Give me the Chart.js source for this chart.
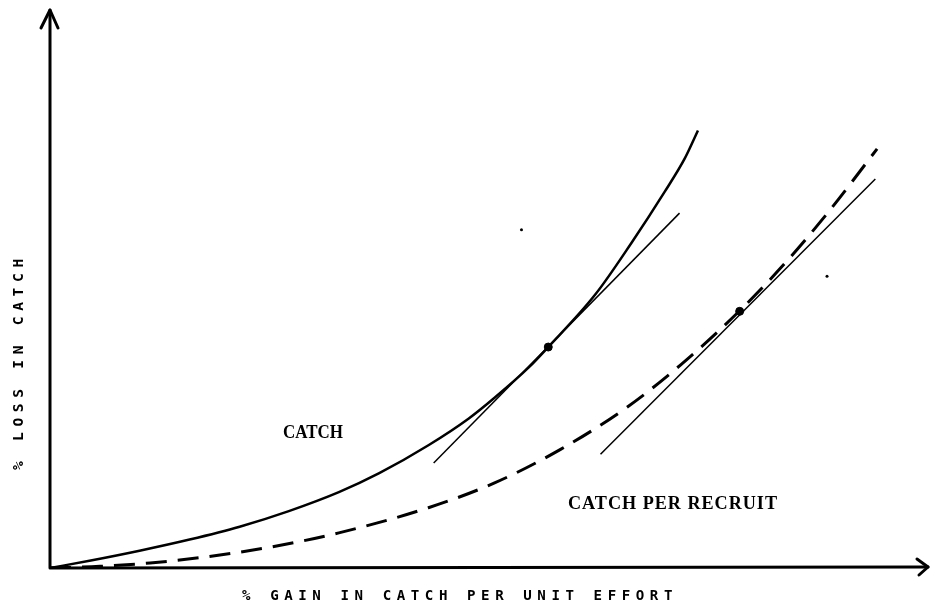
<!DOCTYPE html>
<html>
<head>
<meta charset="utf-8">
<script src="https://cdn.jsdelivr.net/npm/chart.js@4/dist/chart.umd.min.js"></script>
<style>
  html, body { margin: 0; padding: 0; background: #fff; }
  #wrap { width: 933px; height: 608px; }
</style>
</head>
<body>
<div id="wrap"><canvas id="chart" width="933" height="608"></canvas></div>
<script>
// values, both axes in arbitrary 0-100 units
const catchX = [0, 4.5, 10.2, 15.9, 21.6, 27.2, 32.9, 37.5, 43.1, 47.7, 50.7, 54.5, 56.75, 62.1, 66.2, 70.0, 72.3, 73.8];
const catchY = [0, 1.3, 3.1, 5.1, 7.4, 10.2, 13.6, 17.0, 22.0, 26.8, 30.6, 35.9, 39.6, 49.0, 58.2, 67.4, 73.4, 78.4];

const cprX = [0, 5.7, 11.4, 17.8, 25.3, 32.9, 43.1, 50.7, 58.2, 65.8, 71.9, 78.55, 83.7, 88.5, 94.2];
const cprY = [0, 0.3, 0.9, 2.0, 3.8, 6.3, 10.8, 15.3, 21.3, 28.9, 36.5, 46.1, 54.6, 63.5, 75.1];

// tangent lines (start, end)
const tangentCatchX = [43.7, 71.7];
const tangentCatchY = [18.8, 63.6];
const tangentCprX = [62.7, 94.0];
const tangentCprY = [20.4, 69.7];

// points of tangency
const dotX = [56.75, 78.55];
const dotY = [39.6, 46.0];

// stray specks on the original
const speckX = [53.7, 88.5];
const speckY = [60.6, 52.3];

const xTitle = "% GAIN IN CATCH PER UNIT EFFORT";
const yTitle = "% LOSS IN CATCH";
const catchLabel = "CATCH";
const cprLabel = "CATCH PER RECRUIT";

function toPoints(xs, ys) {
  return xs.map((x, i) => ({ x: x, y: ys[i] }));
}

// draw text stretched to a given width
function drawFitted(ctx, text, x, y, width) {
  const w = ctx.measureText(text).width;
  ctx.save();
  ctx.translate(x, y);
  ctx.scale(width / w, 1);
  ctx.fillText(text, 0, 0);
  ctx.restore();
}

const axesPlugin = {
  id: "axesAndLabels",
  afterDatasetsDraw(chart) {
    const ctx = chart.ctx;
    const area = chart.chartArea;
    const x0 = chart.scales.x.getPixelForValue(0);
    const y0 = chart.scales.y.getPixelForValue(0);
    ctx.save();
    ctx.strokeStyle = "#000";
    ctx.fillStyle = "#000";
    ctx.lineWidth = 3;
    ctx.lineCap = "round";
    ctx.lineJoin = "round";

    // axes
    ctx.beginPath();
    ctx.moveTo(x0, area.top);
    ctx.lineTo(x0, y0);
    ctx.lineTo(area.right, y0 - 1);
    ctx.stroke();

    // arrow heads
    ctx.beginPath();
    ctx.moveTo(x0 - 9, area.top + 18);
    ctx.lineTo(x0, area.top);
    ctx.lineTo(x0 + 8, area.top + 18);
    ctx.moveTo(area.right - 11, y0 - 9);
    ctx.lineTo(area.right, y0 - 1);
    ctx.lineTo(area.right - 9, y0 + 7);
    ctx.stroke();

    // axis titles
    ctx.font = "bold 14px 'DejaVu Sans Mono'";
    ctx.textBaseline = "alphabetic";
    ctx.letterSpacing = "5.5px";
    drawFitted(ctx, xTitle, 242, 600, 436);

    ctx.save();
    ctx.translate(23, 470);
    ctx.rotate(-Math.PI / 2);
    drawFitted(ctx, yTitle, 0, 0, 217);
    ctx.restore();

    // curve labels
    ctx.letterSpacing = "0px";
    ctx.font = "bold 19px 'Liberation Serif'";
    drawFitted(ctx, catchLabel, 283, 438, 60);
    ctx.letterSpacing = "1px";
    drawFitted(ctx, cprLabel, 568, 509, 210);
    ctx.restore();
  },
};

const chart = new Chart(document.getElementById("chart"), {
  type: "line",
  data: {
    datasets: [
      {
        label: catchLabel,
        data: toPoints(catchX, catchY),
        borderColor: "#000",
        borderWidth: 2.5,
        cubicInterpolationMode: "monotone",
        pointRadius: 0,
        fill: false,
      },
      {
        label: cprLabel,
        data: toPoints(cprX, cprY),
        borderColor: "#000",
        borderWidth: 3,
        borderDash: [21, 11],
        cubicInterpolationMode: "monotone",
        pointRadius: 0,
        fill: false,
      },
      {
        label: "tangent catch",
        data: toPoints(tangentCatchX, tangentCatchY),
        borderColor: "#000",
        borderWidth: 1.5,
        pointRadius: 0,
      },
      {
        label: "tangent cpr",
        data: toPoints(tangentCprX, tangentCprY),
        borderColor: "#000",
        borderWidth: 1.5,
        pointRadius: 0,
      },
      {
        label: "tangency",
        data: toPoints(dotX, dotY),
        showLine: false,
        pointRadius: 4,
        pointBackgroundColor: "#000",
        pointBorderColor: "#000",
      },
      {
        label: "specks",
        data: toPoints(speckX, speckY),
        showLine: false,
        pointRadius: 1.5,
        pointBackgroundColor: "#000",
        pointBorderColor: "#000",
        pointBorderWidth: 0,
      },
    ],
  },
  options: {
    responsive: false,
    animation: false,
    devicePixelRatio: 1,
    layout: { padding: { left: 50, right: 2, top: 10, bottom: 40 } },
    plugins: { legend: { display: false }, tooltip: { enabled: false } },
    scales: {
      x: { type: "linear", min: 0, max: 100, display: false },
      y: { type: "linear", min: 0, max: 100, display: false },
    },
  },
  plugins: [axesPlugin],
});
</script>
</body>
</html>
